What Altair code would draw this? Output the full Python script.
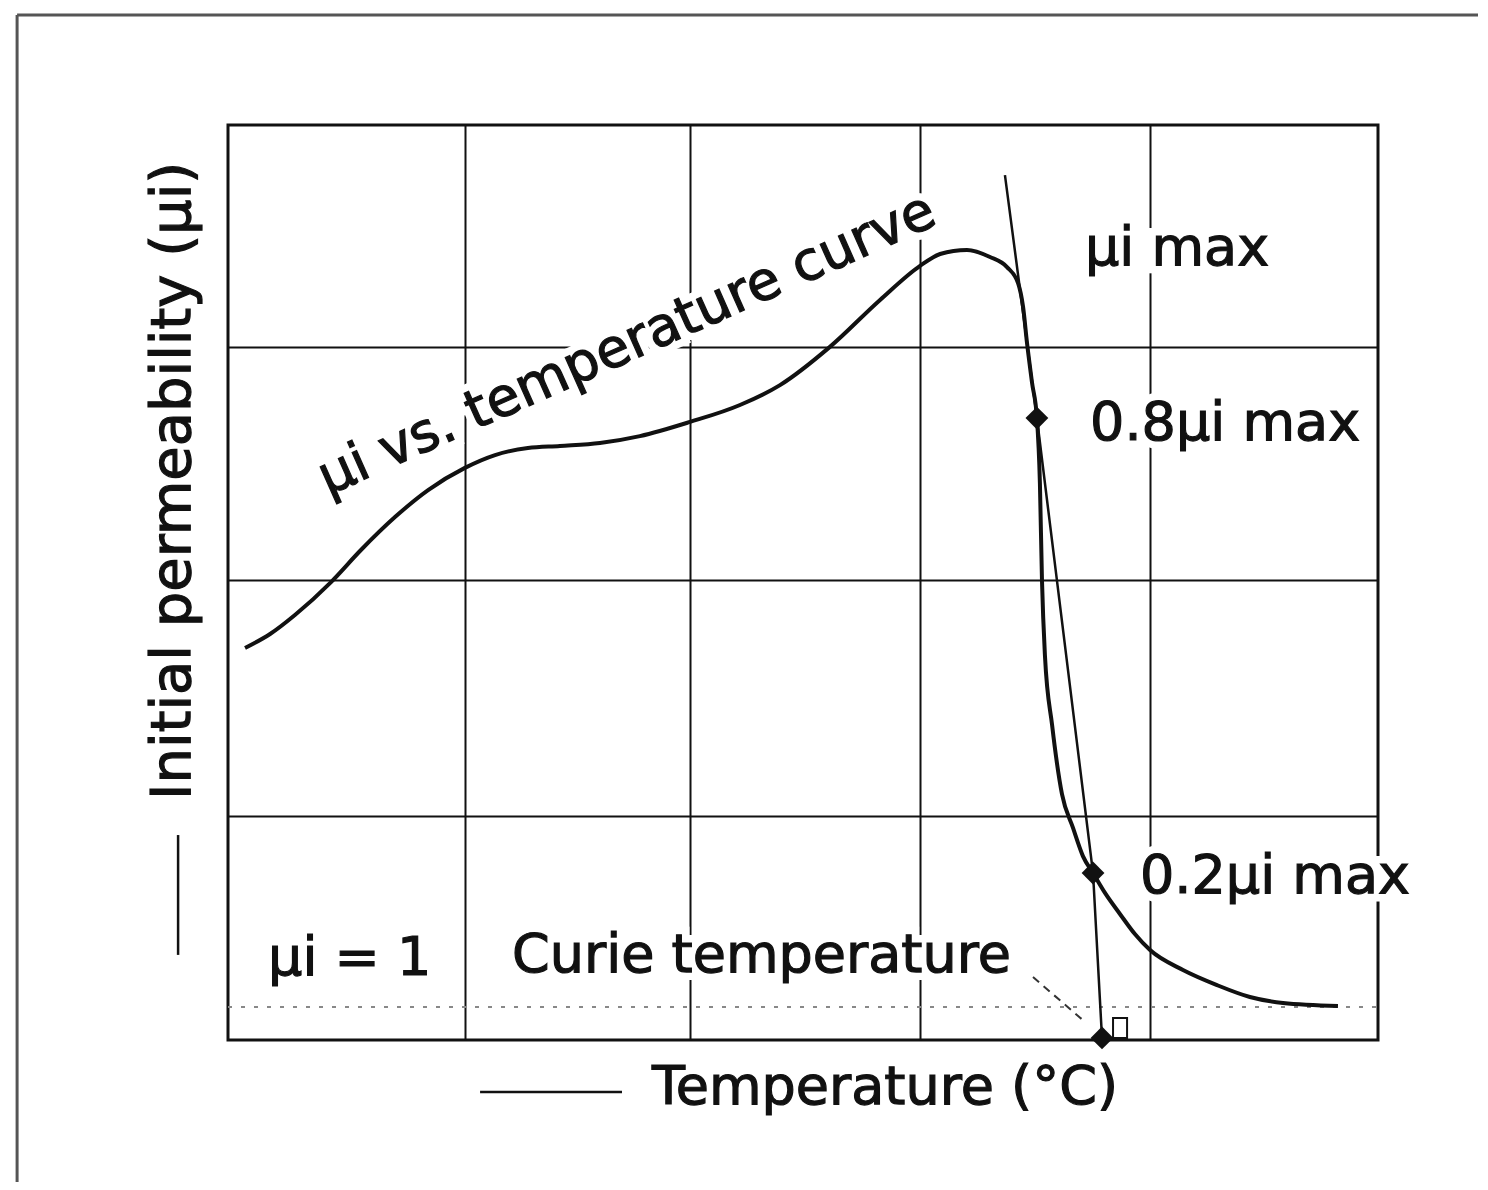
import altair as alt
import pandas as pd

# ---- data (plot units: x 0..5, y 0..4) ----
curve_x = [0.074, 0.183, 0.291, 0.448, 0.578, 0.726, 0.870, 1.030, 1.161, 1.304,
           1.443, 1.617, 1.791, 2.009, 2.226, 2.400, 2.617, 2.835, 3.009, 3.096,
           3.213, 3.313, 3.387, 3.435, 3.457, 3.474, 3.496, 3.517, 3.530, 3.539,
           3.552, 3.583, 3.626, 3.674, 3.717, 3.761, 3.813, 3.878, 3.943, 4.009,
           4.152, 4.300, 4.443, 4.587, 4.826]
curve_y = [1.714, 1.775, 1.858, 2.002, 2.142, 2.286, 2.404, 2.501, 2.557, 2.588,
           2.597, 2.610, 2.640, 2.702, 2.776, 2.863, 3.030, 3.235, 3.384, 3.436,
           3.454, 3.423, 3.379, 3.309, 3.204, 3.047, 2.872, 2.719, 2.435, 2.011,
           1.679, 1.377, 1.075, 0.927, 0.804, 0.730, 0.643, 0.551, 0.463, 0.393,
           0.306, 0.240, 0.188, 0.162, 0.149]

tangent_x = [3.378, 3.517, 3.761, 3.800]
tangent_y = [3.781, 2.719, 0.730, 0.009]

marker_x = [3.517, 3.761, 3.800]
marker_y = [2.719, 0.730, 0.009]

unity_level = [0.144]
leader_x = [3.500, 3.717]
leader_y = [0.275, 0.087]
corner_box = {"x": [3.848], "x2": [3.909], "y": [0.009], "y2": [0.096]}

label_text = ["µi max", "0.8µi max", "0.2µi max", "µi = 1", "Curie temperature"]
label_x = [3.726, 3.748, 3.965, 0.174, 1.235]
label_y = [3.388, 2.623, 0.643, 0.284, 0.297]

curve_label = ["µi vs. temperature curve"]
curve_label_x = [0.435]
curve_label_y = [2.380]

x_title = ["Temperature (°C)"]
x_title_pos = [1.843, -0.280]
x_dash = {"x": [1.096], "x2": [1.713], "y": [-0.227]}
y_title = ["Initial permeability (µi)"]
y_title_pos = [-0.165, 1.049]
y_dash = {"x": [-0.217], "y": [0.372], "y2": [0.896]}

frame_top = {"x": [-0.917], "x2": [5.435], "y": [4.481]}
frame_left = {"x": [-0.917], "y": [-0.621], "y2": [4.481]}

grid_x = [1.03, 2.01, 3.01, 4.01]
grid_y = [0.98, 2.01, 3.03]

FONT = "DejaVu Sans"
INK = "#111111"

xs = alt.Scale(domain=[0, 5], nice=False, zero=False)
ys = alt.Scale(domain=[0, 4], nice=False, zero=False)
xax = alt.Axis(values=grid_x, grid=True, labels=False, ticks=False, domain=False,
               title=None, gridColor=INK, gridWidth=2, gridOpacity=1)
yax = alt.Axis(values=grid_y, grid=True, labels=False, ticks=False, domain=False,
               title=None, gridColor=INK, gridWidth=2, gridOpacity=1)


def X(f="x"):
    return alt.X(f"{f}:Q", scale=xs, axis=xax)


def Y(f="y"):
    return alt.Y(f"{f}:Q", scale=ys, axis=yax)


curve_df = pd.DataFrame({"x": curve_x, "y": curve_y})
tangent_df = pd.DataFrame({"x": tangent_x, "y": tangent_y})
marker_df = pd.DataFrame({"x": marker_x, "y": marker_y})
unity_df = pd.DataFrame({"x": [0.0], "x2": [5.0], "y": unity_level})
leader_df = pd.DataFrame({"x": leader_x, "y": leader_y})
box_df = pd.DataFrame(corner_box)
labels_df = pd.DataFrame({"t": label_text, "x": label_x, "y": label_y})
clabel_df = pd.DataFrame({"t": curve_label, "x": curve_label_x, "y": curve_label_y})
xt_df = pd.DataFrame({"t": x_title, "x": [x_title_pos[0]], "y": [x_title_pos[1]]})
yt_df = pd.DataFrame({"t": y_title, "x": [y_title_pos[0]], "y": [y_title_pos[1]]})

TXT = dict(font=FONT, fontSize=54, align="left", baseline="alphabetic")

# knock-out halos (white) so grid lines break behind the text
halo_labels = alt.Chart(labels_df).mark_text(
    color="white", stroke="white", strokeWidth=16, **TXT
).encode(x=X(), y=Y(), text="t:N")
halo_clabel = alt.Chart(clabel_df).mark_text(
    angle=336, color="white", stroke="white", strokeWidth=16, **TXT
).encode(x=X(), y=Y(), text="t:N")

unity = alt.Chart(unity_df).mark_rule(
    color="#888888", strokeWidth=2, strokeDash=[4, 9]
).encode(x=X(), x2="x2:Q", y=Y())

curve = alt.Chart(curve_df).mark_line(
    color=INK, strokeWidth=4, interpolate="monotone"
).encode(x=X(), y=Y())

tangent = alt.Chart(tangent_df).mark_line(
    color=INK, strokeWidth=2.5
).encode(x=X(), y=Y())

leader = alt.Chart(leader_df).mark_line(
    color="#333333", strokeWidth=2, strokeDash=[8, 6]
).encode(x=X(), y=Y())

box = alt.Chart(box_df).mark_rect(
    filled=False, stroke=INK, strokeWidth=2
).encode(x=X(), x2="x2:Q", y=Y(), y2="y2:Q")

markers = alt.Chart(marker_df).mark_point(
    shape="diamond", filled=True, color=INK, size=520, opacity=1
).encode(x=X(), y=Y())

labels = alt.Chart(labels_df).mark_text(
    color=INK, stroke=INK, strokeWidth=1.2, **TXT
).encode(x=X(), y=Y(), text="t:N")

clabel = alt.Chart(clabel_df).mark_text(
    angle=336, color=INK, stroke=INK, strokeWidth=1.2, **TXT
).encode(x=X(), y=Y(), text="t:N")

xtitle = alt.Chart(xt_df).mark_text(
    color=INK, stroke=INK, strokeWidth=1.2, **TXT
).encode(x=X(), y=Y(), text="t:N")

ytitle = alt.Chart(yt_df).mark_text(
    font=FONT, fontSize=56, align="left", baseline="alphabetic", angle=270,
    color=INK, stroke=INK, strokeWidth=1.2
).encode(x=X(), y=Y(), text="t:N")

xdash = alt.Chart(pd.DataFrame(x_dash)).mark_rule(
    color=INK, strokeWidth=2.5
).encode(x=X(), x2="x2:Q", y=Y())

ydash = alt.Chart(pd.DataFrame(y_dash)).mark_rule(
    color=INK, strokeWidth=2.5
).encode(x=X(), y=Y(), y2="y2:Q")

ftop = alt.Chart(pd.DataFrame(frame_top)).mark_rule(
    color="#555555", strokeWidth=3
).encode(x=X(), x2="x2:Q", y=Y())

fleft = alt.Chart(pd.DataFrame(frame_left)).mark_rule(
    color="#555555", strokeWidth=3
).encode(x=X(), y=Y(), y2="y2:Q")

chart = alt.layer(
    halo_labels, halo_clabel, unity, curve, tangent, leader, box, markers,
    labels, clabel, xtitle, ytitle, xdash, ydash, ftop, fleft
).properties(
    width=1150, height=915,
    autosize=alt.AutoSizeParams(type="none"),
    padding={"left": 220, "top": 117, "right": 100, "bottom": 142},
    background="white",
).configure_view(
    stroke=INK, strokeWidth=3
)

chart.save("out.html", embed_options={"renderer": "svg", "actions": False})
